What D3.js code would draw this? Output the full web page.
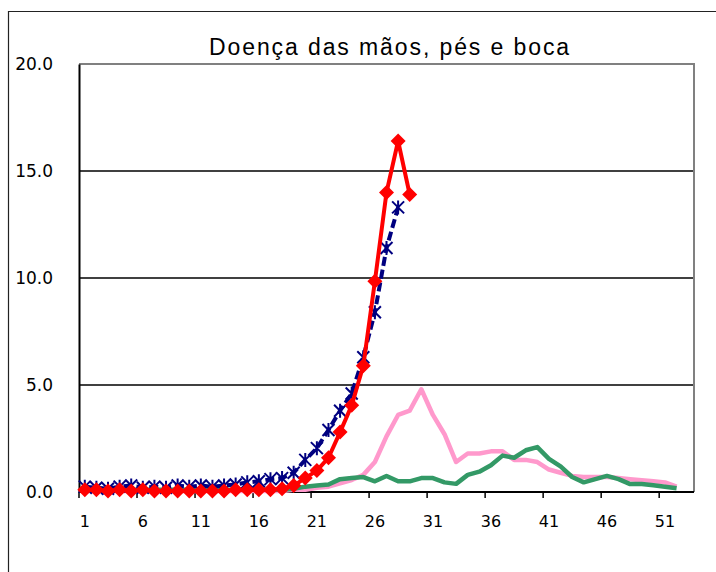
<!DOCTYPE html>
<html>
<head>
<meta charset="utf-8">
<script src="https://cdn.jsdelivr.net/npm/d3@7"></script>
<style>
  body { margin: 0; background: #fff; }
  svg { display: block; }
</style>
</head>
<body>
<div id="chart"></div>
<script>
// categories (weeks) and tick labels
const weeks = [1,2,3,4,5,6,7,8,9,10,11,12,13,14,15,16,17,18,19,20,21,22,23,24,25,26,
  27,28,29,30,31,32,33,34,35,36,37,38,39,40,41,42,43,44,45,46,47,48,49,50,51,52,53];
const xTickLabels = [1,6,11,16,21,26,31,36,41,46,51];
const yTicks = [0,5,10,15,20];

// series values, one per week starting at week 1
const redValues = [0.1,0.1,0.05,0.1,0.05,0.1,0.05,0.05,0.05,0.05,0.05,0.05,0.05,0.1,0.1,
  0.1,0.1,0.15,0.3,0.65,1.0,1.6,2.8,4.05,5.9,9.85,14.0,16.4,13.9];
const navyValues = [0.25,0.2,0.15,0.25,0.3,0.2,0.25,0.2,0.3,0.25,0.3,0.25,0.3,0.35,0.45,
  0.5,0.6,0.65,0.9,1.5,2.05,2.9,3.8,4.6,6.3,8.4,11.4,13.3];
const pinkValues = [0.05,0.05,0.05,0.05,0.05,0.05,0.05,0.05,0.05,0.05,0.05,0.05,0.05,0.05,
  0.05,0.05,0.05,0.05,0.1,0.1,0.2,0.25,0.4,0.56,0.8,1.4,2.6,3.6,3.8,4.8,3.6,2.7,1.4,1.8,
  1.8,1.9,1.9,1.5,1.5,1.4,1.05,0.9,0.75,0.7,0.7,0.7,0.65,0.6,0.55,0.5,0.45,0.25];
const greenValues = [0.1,0.1,0.1,0.1,0.1,0.1,0.1,0.1,0.1,0.1,0.1,0.1,0.1,0.1,0.1,0.1,0.1,
  0.1,0.15,0.25,0.3,0.35,0.6,0.65,0.7,0.5,0.75,0.5,0.5,0.65,0.65,0.45,0.38,0.8,0.95,1.25,
  1.7,1.6,1.95,2.1,1.55,1.2,0.7,0.45,0.6,0.75,0.6,0.37,0.37,0.32,0.25,0.18];

const width = 716, height = 572;
const plot = { left: 79, right: 694, top: 64, bottom: 492 };

const svg = d3.select("#chart").append("svg")
  .attr("width", width)
  .attr("height", height);

// outer frame of the chart object
svg.append("path")
  .attr("d", `M8.5,${height + 2} V11.5 H${width + 2}`)
  .attr("fill", "none")
  .attr("stroke", "#222")
  .attr("stroke-width", 1.2);

const x = d3.scaleBand()
  .domain(weeks)
  .range([plot.left, plot.right])
  .padding(0);

const y = d3.scaleLinear()
  .domain([0, 20])
  .range([plot.bottom, plot.top]);

const cx = w => x(w) + x.bandwidth() / 2;

// title
svg.append("text")
  .attr("x", 390)
  .attr("y", 55)
  .attr("text-anchor", "middle")
  .attr("font-family", "Liberation Sans, Arial, sans-serif")
  .attr("font-size", 23)
  .attr("letter-spacing", 1.9)
  .attr("fill", "#000")
  .text("Doença das mãos, pés e boca");

// gridlines
svg.append("g")
  .selectAll("line")
  .data(yTicks.filter(d => d > 0 && d < 20))
  .join("line")
  .attr("x1", plot.left)
  .attr("x2", plot.right)
  .attr("y1", d => y(d))
  .attr("y2", d => y(d))
  .attr("stroke", "#000")
  .attr("stroke-width", 1.3);

// plot border: top and right grey
svg.append("path")
  .attr("d", `M${plot.left},${y(20)} H${plot.right} V${plot.bottom}`)
  .attr("fill", "none")
  .attr("stroke", "#808080")
  .attr("stroke-width", 2);

// y axis
const yAxis = svg.append("g")
  .attr("transform", `translate(${plot.left},0)`)
  .call(d3.axisLeft(y).tickValues(yTicks).tickFormat(d3.format(".1f")).tickSize(0).tickPadding(26));
yAxis.select(".domain").attr("stroke", "#000").attr("stroke-width", 2);
yAxis.selectAll("text")
  .attr("font-family", "DejaVu Sans, sans-serif")
  .attr("font-size", 17)
  .attr("fill", "#000");

// x axis: ticks at category boundaries, labels at category centres
const xg = svg.append("g");
xg.append("line")
  .attr("x1", plot.left).attr("x2", plot.right)
  .attr("y1", plot.bottom).attr("y2", plot.bottom)
  .attr("stroke", "#000").attr("stroke-width", 2);
xg.selectAll(".tick")
  .data(xTickLabels)
  .join("line")
  .attr("class", "tick")
  .attr("x1", d => x(d)).attr("x2", d => x(d))
  .attr("y1", plot.bottom).attr("y2", plot.bottom + 6)
  .attr("stroke", "#000").attr("stroke-width", 1.5);
xg.selectAll(".lbl")
  .data(xTickLabels)
  .join("text")
  .attr("class", "lbl")
  .attr("x", d => cx(d))
  .attr("y", 527)
  .attr("text-anchor", "middle")
  .attr("font-family", "DejaVu Sans, sans-serif")
  .attr("font-size", 16)
  .attr("fill", "#000")
  .text(d => d);

const line = d3.line()
  .x((d, i) => cx(weeks[i]))
  .y(d => y(d));

// pink and green (no markers)
svg.append("path")
  .attr("d", line(pinkValues))
  .attr("fill", "none")
  .attr("stroke", "#ff99cc")
  .attr("stroke-width", 4.5)
  .attr("stroke-linejoin", "round");

svg.append("path")
  .attr("d", line(greenValues))
  .attr("fill", "none")
  .attr("stroke", "#339966")
  .attr("stroke-width", 4.5)
  .attr("stroke-linejoin", "round");

// navy dashed with asterisk markers
svg.append("path")
  .attr("d", line(navyValues))
  .attr("fill", "none")
  .attr("stroke", "#000080")
  .attr("stroke-width", 4)
  .attr("stroke-dasharray", "9,4");

svg.append("g")
  .selectAll("path")
  .data(navyValues)
  .join("path")
  .attr("transform", (d, i) => `translate(${cx(weeks[i])},${y(d)})`)
  .attr("d", "M0,-7V7M-6,-6L6,6M-6,6L6,-6")
  .attr("stroke", "#000080")
  .attr("stroke-width", 2)
  .attr("fill", "none");

// red solid with diamond markers
svg.append("path")
  .attr("d", line(redValues))
  .attr("fill", "none")
  .attr("stroke", "#ff0000")
  .attr("stroke-width", 4)
  .attr("stroke-linejoin", "round");

svg.append("g")
  .selectAll("path")
  .data(redValues)
  .join("path")
  .attr("transform", (d, i) => `translate(${cx(weeks[i])},${y(d)})`)
  .attr("d", "M0,-7.5L7.5,0L0,7.5L-7.5,0Z")
  .attr("fill", "#ff0000");
</script>
</body>
</html>
